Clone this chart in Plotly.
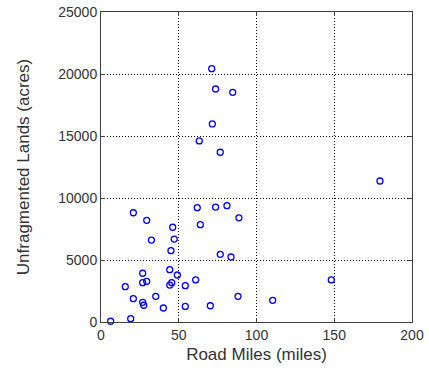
import plotly.graph_objects as go

road_miles = [71.2, 73.7, 84.7, 71.6, 63.2, 76.7, 179.4, 20.8, 61.9, 73.7, 81.0,
              88.7, 29.4, 46.1, 63.9, 32.4, 47.1, 45.0, 76.7, 83.6, 44.2, 26.8,
              49.1, 60.9, 148.1, 26.8, 29.4, 45.5, 44.2, 15.6, 54.2, 20.8, 35.2,
              26.8, 27.5, 40.1, 54.2, 70.3, 88.1, 110.4, 6.2, 19.1]
unfragmented_acres = [20430, 18790, 18520, 15970, 14600, 13690, 11370, 8810, 9220,
                      9270, 9380, 8400, 8200, 7640, 7850, 6610, 6690, 5750, 5460,
                      5240, 4220, 3930, 3790, 3390, 3390, 3170, 3280, 3170, 2980,
                      2850, 2930, 1880, 2070, 1590, 1350, 1130, 1260, 1310, 2070,
                      1750, 60, 270]

x_ticks = [0, 50, 100, 150, 200]
x_labels = ["0", "50", "100", "150", "200"]
y_ticks = [0, 5000, 10000, 15000, 20000, 25000]
y_labels = ["0", "5000", "10000", "15000", "20000", "25000"]

fig = go.Figure(go.Scatter(
    x=road_miles, y=unfragmented_acres, mode="markers",
    marker=dict(symbol="circle-open", size=6, color="#0000ff", line=dict(width=1.3)),
    cliponaxis=False,
))

axis_common = dict(
    showline=True, linecolor="#404040", linewidth=1, mirror="ticks",
    ticks="inside", ticklen=4, tickcolor="#404040",
    showgrid=True, gridcolor="#000000", griddash="1px,2px", gridwidth=1.2,
    zeroline=False, automargin=False,
    tickfont=dict(family="Liberation Sans, Arial", size=14, color="#333333"),
)

fig.update_layout(
    width=429, height=374,
    margin=dict(l=101, r=17, t=12, b=52, autoexpand=False),
    paper_bgcolor="white", plot_bgcolor="white",
    showlegend=False,
    font=dict(family="Liberation Sans, Arial", size=14, color="#333333"),
    xaxis=dict(range=[0, 200], tickvals=x_ticks, ticktext=x_labels,
               title=dict(text="Road Miles (miles)", standoff=6), **axis_common),
    yaxis=dict(range=[0, 25000], tickvals=y_ticks, ticktext=y_labels,
               title=dict(text="Unfragmented Lands (acres)", standoff=24), **axis_common),
)

fig.write_html("out.html")
